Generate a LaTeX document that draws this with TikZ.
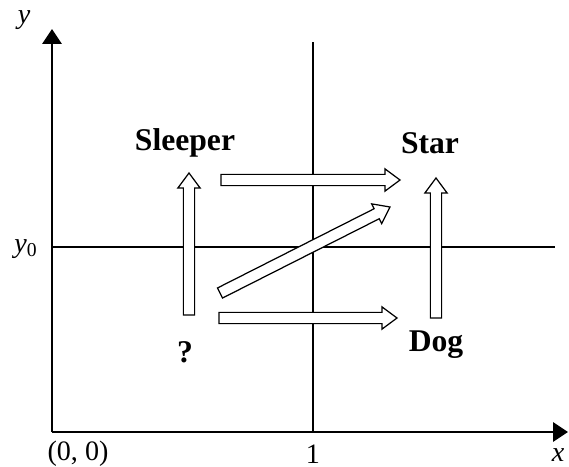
\documentclass[tikz,border=0pt]{standalone}
\usepackage{fontspec}
\setmainfont{Liberation Serif}
\usetikzlibrary{arrows.meta,calc}

\tikzset{
  hollow/.style={draw,fill=white,line width=0.7pt,line join=miter},
  lbl/.style={font=\fontsize{18}{21}\selectfont\bfseries},
  tick/.style={font=\fontsize{16}{19}\selectfont,inner sep=0pt},
}
% hollow block arrow from #1 to #2
\newcommand{\hollowarrow}[2]{%
  \path (#2) coordinate (tip) ($(#2)!8.5pt!(#1)$) coordinate (neck);
  \draw[hollow] ($(#1)!3.2pt!90:(#2)$) -- ($(neck)!3.2pt!90:(tip)$)
    -- ($(neck)!6.3pt!90:(tip)$) -- (tip) -- ($(neck)!6.3pt!-90:(tip)$)
    -- ($(neck)!3.2pt!-90:(tip)$) -- ($(#1)!3.2pt!-90:(#2)$) -- cycle;}

\begin{document}
\begin{tikzpicture}[x=0.02cm,y=-0.02cm,line width=0.75pt,>={Triangle[length=8.5pt,width=11pt]}]
  \useasboundingbox (0,0) rectangle (569,467);
  % axes
  \coordinate (O) at (52,432);
  \coordinate (xend) at (568,432);
  \coordinate (yend) at (52,29);
  \draw[->,line width=1.1pt] (O) -- (xend);
  \draw[->,line width=1.1pt] (O) -- (yend);
  \draw (313,42) -- (313,432);
  \draw (52,247) -- (555,247);
  \node[tick] (origin) at (78,454) {(0, 0)};
  \node[tick] (one) at (313,454) {1};
  \node[tick] (xlab) at (558,455) {\itshape x};
  \node[tick] (ylab) at (24,20) {\itshape y};
  \node[tick] (y0lab) at (26,249) {\itshape y\textsubscript{\upshape 0}};
  % states
  \node[lbl] (sleeper) at (185,143) {Sleeper};
  \node[lbl] (star) at (430,143) {Star};
  \node[lbl] (unk) at (185,352) {?};
  \node[lbl] (dog) at (436,345) {Dog};
  % transitions
  \coordinate (a1) at (189,315); \coordinate (b1) at (189,173);
  \coordinate (a2) at (436,318); \coordinate (b2) at (436,178);
  \coordinate (a3) at (221,180); \coordinate (b3) at (400,180);
  \coordinate (a4) at (219,318); \coordinate (b4) at (397,318);
  \coordinate (a5) at (220,293); \coordinate (b5) at (390,207);
  \hollowarrow{a1}{b1}
  \hollowarrow{a2}{b2}
  \hollowarrow{a3}{b3}
  \hollowarrow{a4}{b4}
  \hollowarrow{a5}{b5}
\end{tikzpicture}
\end{document}
